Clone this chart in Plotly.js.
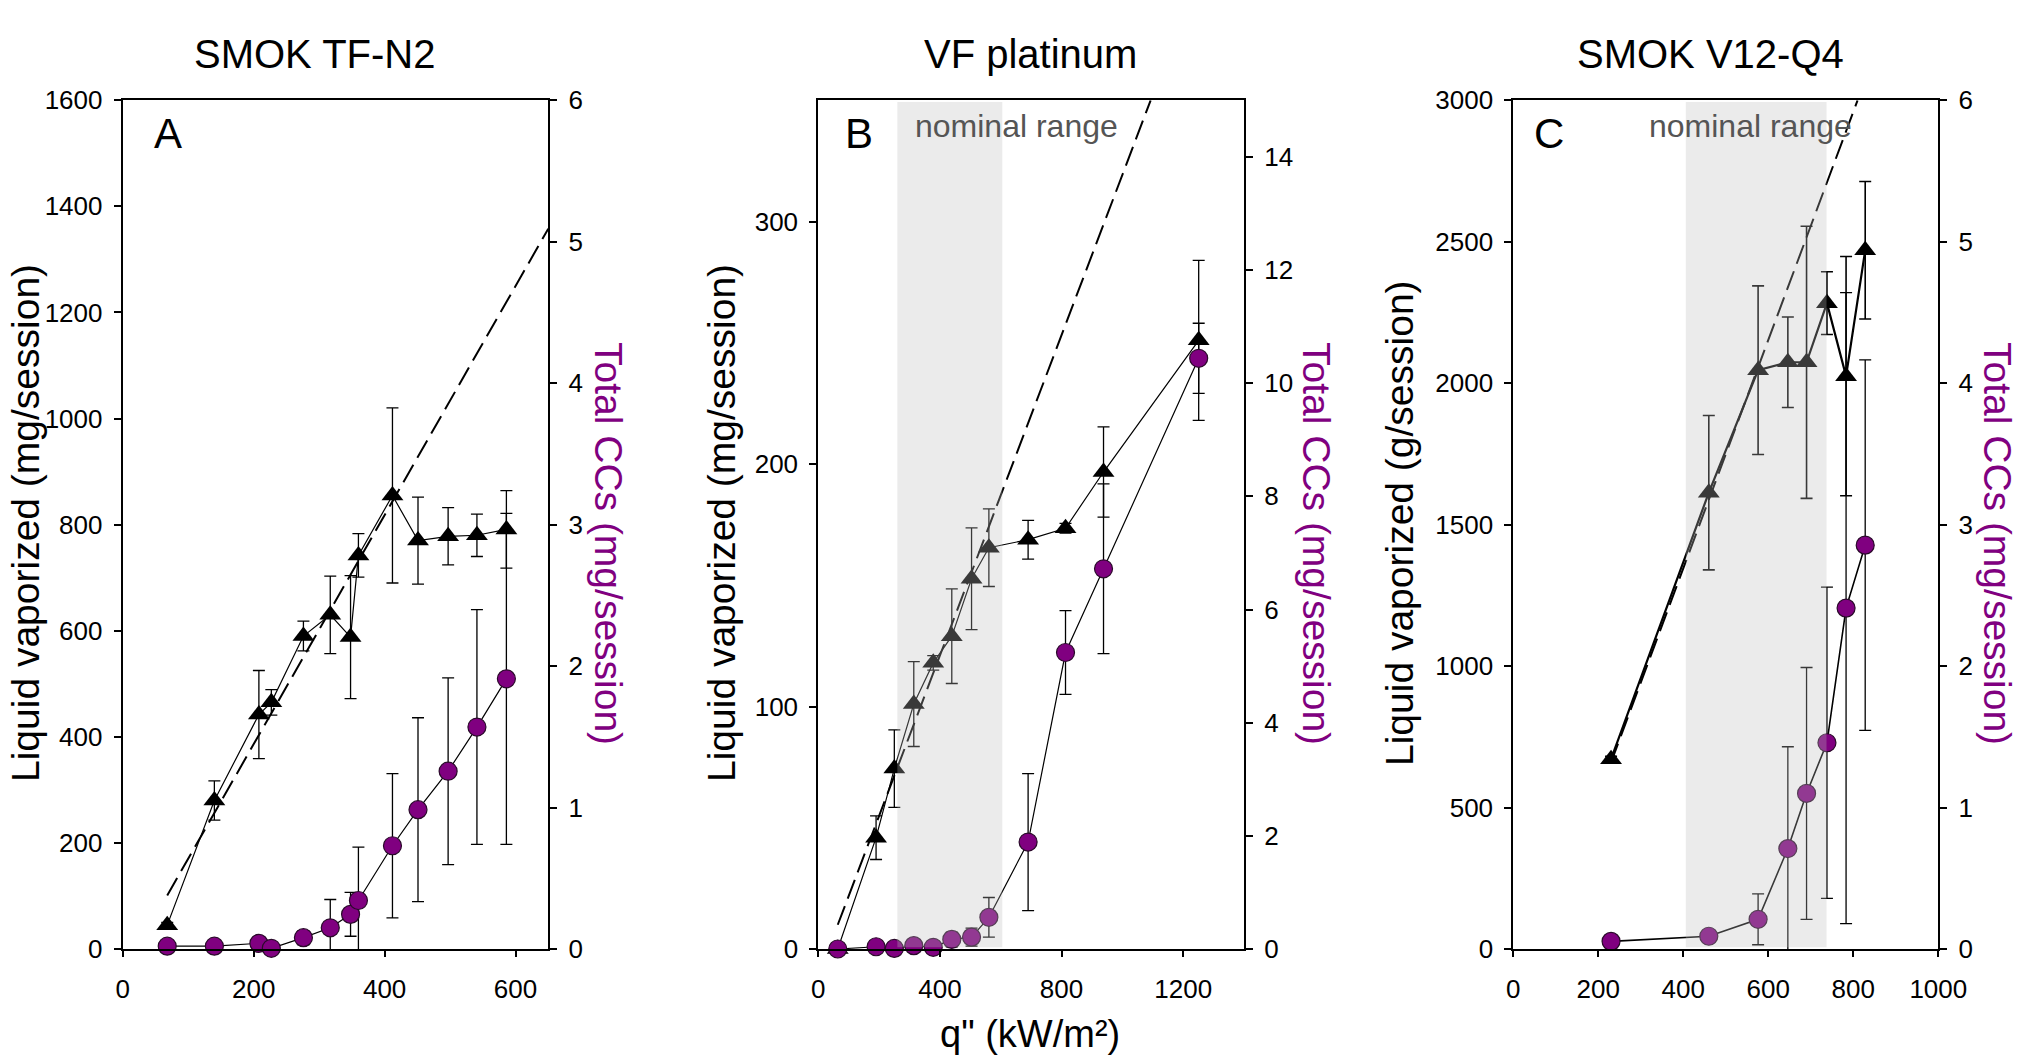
<!DOCTYPE html>
<html><head><meta charset="utf-8">
<script src="https://cdn.plot.ly/plotly-3.0.1.min.js"></script>
<style>html,body{margin:0;padding:0;background:#fff}#chart{width:2026px;height:1062px}</style>
</head><body><div id="chart"></div>
<script>
// ---------- Panel A: SMOK TF-N2 ----------
const qA = [68, 140, 208, 227, 276, 317, 348, 360, 412, 451, 497, 541, 586];
const liqA = [45, 280, 442, 465, 590, 630, 588, 742, 855, 770, 778, 780, 791];
const liqAErr = [5, 37, 83, 24, 28, 73, 116, 41, 165, 82, 54, 40, 73];
const ccA = [0.02, 0.02, 0.04, 0.005, 0.08, 0.15, 0.245, 0.343, 0.73, 0.985, 1.257, 1.569, 1.91];
const ccAErr = [0.01, 0.01, 0.02, 0.01, 0.05, 0.2, 0.155, 0.377, 0.51, 0.65, 0.66, 0.83, 1.17];
const fitAx = [68, 650];
const fitAy = [101, 1358];

// ---------- Panel B: VF platinum ----------
const qB = [64, 190, 250, 314, 378, 439, 504, 561, 690, 813, 938, 1251];
const liqB = [0, 45.9, 74.4, 101, 118, 129, 152.7, 165.5, 168.8, 173.5, 196.7, 251];
const liqBErr = [1, 9, 16, 17.5, 3, 19.5, 21, 16, 8, 2, 18.6, 33];
const ccB = [0, 0.04, 0.01, 0.06, 0.03, 0.17, 0.21, 0.56, 1.89, 5.24, 6.72, 10.44];
const ccBErr = [0, 0.02, 0.02, 0.02, 0.02, 0.13, 0.16, 0.35, 1.21, 0.74, 1.5, 0.62];
const fitBx = [64, 1093];
const fitBy = [10, 350];
const nominalB = [260, 605];

// ---------- Panel C: SMOK V12-Q4 ----------
const qC = [230, 460, 576, 646, 690, 738, 783, 828];
const liqC = [671, 1613, 2046, 2074, 2074, 2283, 2025, 2470];
const liqCErr = [10, 273, 298, 160, 481, 111, 423, 243];
const ccC = [0.054, 0.09, 0.21, 0.71, 1.10, 1.458, 2.41, 2.855];
const ccCErr = [0.01, 0.01, 0.18, 0.72, 0.89, 1.1, 2.23, 1.31];
const fitCx = [230, 810];
const fitCy = [660, 3000];
const nominalC = [406, 737];

// tick labels
const ticksAx = [0, 200, 400, 600];
const ticksAy = [0, 200, 400, 600, 800, 1000, 1200, 1400, 1600];
const ticksAy2 = [0, 1, 2, 3, 4, 5, 6];
const ticksBx = [0, 400, 800, 1200];
const ticksBy = [0, 100, 200, 300];
const ticksBy2 = [0, 2, 4, 6, 8, 10, 12, 14];
const ticksCx = [0, 200, 400, 600, 800, 1000];
const ticksCy = [0, 500, 1000, 1500, 2000, 2500, 3000];
const ticksCy2 = [0, 1, 2, 3, 4, 5, 6];

const titles = ['SMOK TF-N2', 'VF platinum', 'SMOK V12-Q4'];
const letters = ['A', 'B', 'C'];
const leftTitles = ['Liquid vaporized (mg/session)', 'Liquid vaporized (mg/session)', 'Liquid vaporized (g/session)'];
const rightTitle = 'Total CCs (mg/session)';
const xTitle = 'q" (kW/m²)';
const nominalText = 'nominal range';

// ---------- layout helpers ----------
const W = 2026, H = 1062;
const FONT = '"Liberation Sans", Arial, sans-serif';
const PURPLE = '#800080';
const px = v => v / W;
const py = v => 1 - v / H;
const yDom = [py(949), py(100.3)];
const xDoms = [[px(122.7), px(548.3)], [px(818.3), px(1244)], [px(1513.3), px(1938.3)]];

function xAxis(dom, range, tv, anchor) {
  return {domain: dom, range: range, tickvals: tv, anchor: anchor,
    ticks: 'outside', ticklen: 6, tickwidth: 2, tickcolor: 'black',
    showline: true, linewidth: 2, linecolor: 'black', mirror: true,
    showgrid: false, zeroline: false, ticklabelstandoff: 10,
    tickfont: {size: 26, color: 'black', family: FONT}};
}
function yAxis(range, tv, anchor, overlay) {
  const a = {domain: yDom, range: range, tickvals: tv, anchor: anchor,
    ticks: 'outside', ticklen: 7, tickwidth: 2, tickcolor: 'black',
    showline: true, linewidth: 2, linecolor: 'black',
    showgrid: false, zeroline: false, ticklabelstandoff: 6,
    tickfont: {size: 26, color: 'black', family: FONT}};
  if (overlay) { a.overlaying = overlay; a.side = 'right'; }
  return a;
}

function err(arr, th) { return {type: 'data', array: arr, visible: true, color: 'black', thickness: th || 1.3, width: 6}; }

function tri(x, y, e, xa, ya, lw, eth) {
  return {x: x, y: y, xaxis: xa, yaxis: ya, mode: 'lines+markers', cliponaxis: false,
    line: {color: 'black', width: lw}, marker: {symbol: 'triangle-up', size: 19, color: 'black'},
    error_y: err(e, eth), showlegend: false, hoverinfo: 'skip'};
}
function circ(x, y, e, xa, ya, lw) {
  return {x: x, y: y, xaxis: xa, yaxis: ya, mode: 'lines+markers', cliponaxis: false,
    line: {color: 'black', width: lw}, marker: {symbol: 'circle', size: 18, color: PURPLE, line: {color: '#2a0a2a', width: 1.2}},
    error_y: err(e, 1.3), showlegend: false, hoverinfo: 'skip'};
}
function fit(x, y, xa, ya) {
  return {x: x, y: y, xaxis: xa, yaxis: ya, mode: 'lines',
    line: {color: 'black', width: 2, dash: '20px,8px'}, showlegend: false, hoverinfo: 'skip'};
}

const data = [
  fit(fitAx, fitAy, 'x', 'y'),
  tri(qA, liqA, liqAErr, 'x', 'y', 1.2, 1.3),
  circ(qA, ccA, ccAErr, 'x', 'y2', 1.2),
  fit(fitBx, fitBy, 'x2', 'y3'),
  tri(qB, liqB, liqBErr, 'x2', 'y3', 1.2, 1.3),
  circ(qB, ccB, ccBErr, 'x2', 'y4', 1.2),
  fit(fitCx, fitCy, 'x3', 'y5'),
  tri(qC, liqC, liqCErr, 'x3', 'y5', 2.2, 1.6),
  circ(qC, ccC, ccCErr, 'x3', 'y6', 1.6)
];

const ann = [];
function addText(text, x, y, size, color, angle, extra) {
  const a = {text: text, x: px(x), y: py(y), xref: 'paper', yref: 'paper', showarrow: false,
    xanchor: 'center', yanchor: 'middle', textangle: angle || 0,
    font: {family: FONT, size: size, color: color}};
  Object.assign(a, extra || {});
  ann.push(a);
}
const titleX = [315, 1030, 1710.5];
const letterX = [168, 859, 1548.5];
const leftTX = [26, 722, 1400];
const rightTX = [609, 1317, 1998];
for (let i = 0; i < 3; i++) {
  addText(titles[i], titleX[i], 53.5, 40, 'black');
  addText(letters[i], letterX[i], 134, 42, 'black');
  addText(leftTitles[i], leftTX[i], 523, 39, 'black', -90);
  addText(rightTitle, rightTX[i], 543, 39, PURPLE, 90);
}
addText(nominalText, 1016.5, 126, 32, '#555555');
addText(nominalText, 1750, 126, 32, '#555555');
addText(xTitle, 1030, 1034, 38, 'black');

const shade = (r, xr, yr) => ({type: 'rect', xref: xr, yref: yr + ' domain', x0: r[0], x1: r[1], y0: 0.002, y1: 0.998,
  fillcolor: 'rgba(190,190,190,0.30)', line: {width: 0}, layer: 'above'});

const layout = {
  width: W, height: H, margin: {l: 0, r: 0, t: 0, b: 0},
  paper_bgcolor: 'white', plot_bgcolor: 'rgba(0,0,0,0)', showlegend: false,
  font: {family: FONT, color: 'black'},
  xaxis: xAxis(xDoms[0], [0, 650], ticksAx, 'y'),
  yaxis: yAxis([0, 1600], ticksAy, 'x'),
  yaxis2: yAxis([0, 6], ticksAy2, 'x', 'y'),
  xaxis2: xAxis(xDoms[1], [0, 1400], ticksBx, 'y3'),
  yaxis3: yAxis([0, 350], ticksBy, 'x2'),
  yaxis4: yAxis([0, 15], ticksBy2, 'x2', 'y3'),
  xaxis3: xAxis(xDoms[2], [0, 1000], ticksCx, 'y5'),
  yaxis5: yAxis([0, 3000], ticksCy, 'x3'),
  yaxis6: yAxis([0, 6], ticksCy2, 'x3', 'y5'),
  shapes: [shade(nominalB, 'x2', 'y3'), shade(nominalC, 'x3', 'y5')],
  annotations: ann
};

Plotly.newPlot('chart', data, layout, {staticPlot: true, displayModeBar: false});
</script></body></html>
